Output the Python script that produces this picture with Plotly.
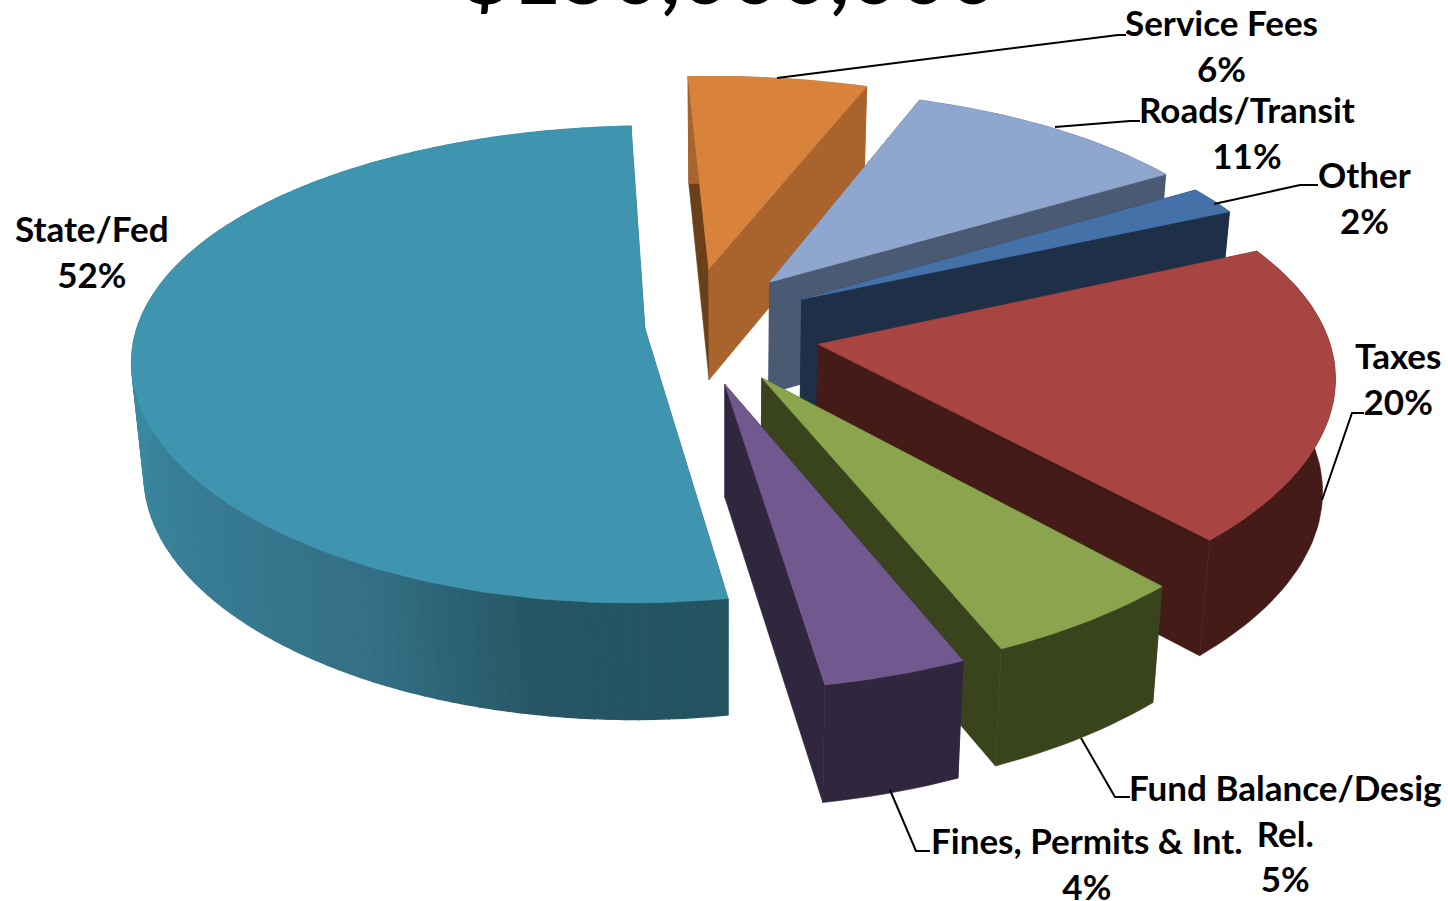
import math
import plotly.graph_objects as go

# ---- data ----
categories = ["Service Fees", "Roads/Transit", "Other", "Taxes",
              "Fund Balance/Desig<br>Rel.", "Fines, Permits & Int.", "State/Fed"]
values = [6.4, 10.6, 2.0, 19.9, 5.49, 3.8, 51.81]
title_text = "$150,000,000"

# ---- styling and the exploded 3-D look ----
explode_x = [-0.052, 0.068, 0.13, 0.158, 0.05, -0.019, -0.173]
explode_y = [0.245, 0.185, 0.11, -0.08, -0.215, -0.24, -0.015]
radius = [1.0, 0.98, 0.97, 0.975, 0.99, 1.0, 0.975]
top_colors = ["#D8823B", "#8FA7CF", "#4471A7", "#A84543", "#8AA54E", "#71588F", "#3F95AF"]
wall_colors = ["#A8642C", "#4A5A72", "#1E3048", "#451B18", "#39441D", "#30273F", "#255563"]
left_wall_colors = ["#6B3F18", "#4A5A72", "#1E3048", "#451B18", "#39441D", "#30273F", "#255563"]
state_stops = [(0.0, (36, 82, 97)), (0.1, (38, 86, 101)), (0.2, (52, 112, 134)),
               (0.47, (58, 136, 161)), (1.0, (61, 143, 168))]
draw_order = [6, 0, 1, 2, 3, 4, 5]
label_pos = [(1221, 45), (1247, 132), (1364, 197), (1398, 378), (1285, 832), (1087, 863), (92, 251)]
leaders = [
    [(777, 78), (1118, 35), (1126, 35)],
    [(1055, 127), (1130, 121), (1140, 121)],
    [(1214, 204), (1300, 185), (1318, 185)],
    [(1322, 500), (1352, 413), (1364, 413)],
    [(1081, 738), (1115, 797), (1130, 797)],
    [(890, 790), (916, 851), (930, 851)],
]

START = -3.0
CX, CY, S, A, H = 735.0, 325.0, 520.0, 238.0, 112.0
DX, DY = 8.0, 6.5
LEAN_X, LEAN = 725.0, 0.021


def project(x, y, depth=0.0):
    fx = 1 / (1 + y / DX)
    fy = 1 / (1 + y / DY)
    px = CX + S * x * fx
    px = LEAN_X + (px - LEAN_X) * (1 - LEAN * depth)
    return px, CY - A * y * fy + H * depth * fx ** 0.3


def poly(points, color, width=0.6):
    xs = [p[0] for p in points] + [points[0][0]]
    ys = [p[1] for p in points] + [points[0][1]]
    return go.Scatter(x=xs, y=ys, mode="lines", fill="toself", fillcolor=color,
                      line=dict(color=color, width=width), hoverinfo="skip", showlegend=False)


def mix(t):
    for (a, ca), (b, cb) in zip(state_stops, state_stops[1:]):
        if t <= b:
            u = (t - a) / (b - a)
            c = [round(ca[i] + (cb[i] - ca[i]) * u) for i in range(3)]
            return f"rgb({c[0]},{c[1]},{c[2]})"
    return "rgb(61,143,168)"


total = sum(values)
bounds = [START]
for v in values:
    bounds.append(bounds[-1] + 360.0 * v / total)

traces = []
for i in draw_order:
    a0, a1 = bounds[i], bounds[i + 1]
    ox, oy, rad = explode_x[i], explode_y[i], radius[i]
    n = max(4, int((a1 - a0) / 1.5))
    ang = [math.radians(a0 + (a1 - a0) * k / n) for k in range(n + 1)]
    rim = [(ox + rad * math.sin(t), oy + rad * math.cos(t)) for t in ang]
    apex = (ox, oy)
    traces.append(poly([project(*apex), project(*rim[0]), project(*rim[0], 1), project(*apex, 1)], left_wall_colors[i]))
    traces.append(poly([project(*apex), project(*rim[-1]), project(*rim[-1], 1), project(*apex, 1)], wall_colors[i]))
    if i == 6:
        for k in range(n):
            col = mix(k / (n - 1))
            traces.append(poly([project(*rim[k]), project(*rim[k + 1]),
                                project(*rim[k + 1], 1), project(*rim[k], 1)], col, width=1.4))
    else:
        traces.append(poly([project(*p) for p in rim] + [project(*p, 1) for p in reversed(rim)], wall_colors[i]))
    traces.append(poly([project(*apex)] + [project(*p) for p in rim], top_colors[i]))

fig = go.Figure(traces)

font = dict(family="Lato, Carlito, sans-serif", size=35, color="black")
for cat, v, (lx, ly) in zip(categories, values, label_pos):
    fig.add_annotation(x=lx, y=ly, text=f"<b>{cat}<br>{round(v)}%</b>", showarrow=False, font=font,
                       xanchor="center", yanchor="middle", align="center")
fig.add_annotation(x=730, y=24, text=f"<b>{title_text}</b>", showarrow=False, yanchor="bottom",
                   font=dict(family="Lato, Carlito, sans-serif", size=85.5, color="black"))

for path in leaders:
    d = "M " + " L ".join(f"{x} {y}" for x, y in path)
    fig.add_shape(type="path", path=d, xref="x", yref="y", line=dict(color="black", width=2))

fig.update_layout(
    width=1448, height=901, margin=dict(l=0, r=0, t=0, b=0),
    paper_bgcolor="white", plot_bgcolor="white", showlegend=False,
    xaxis=dict(range=[0, 1448], visible=False, fixedrange=True),
    yaxis=dict(range=[901, 0], visible=False, fixedrange=True),
)
fig.write_html("out.html", config={"displayModeBar": False},
               post_script="document.body.style.margin='0';document.body.style.overflow='hidden';")
